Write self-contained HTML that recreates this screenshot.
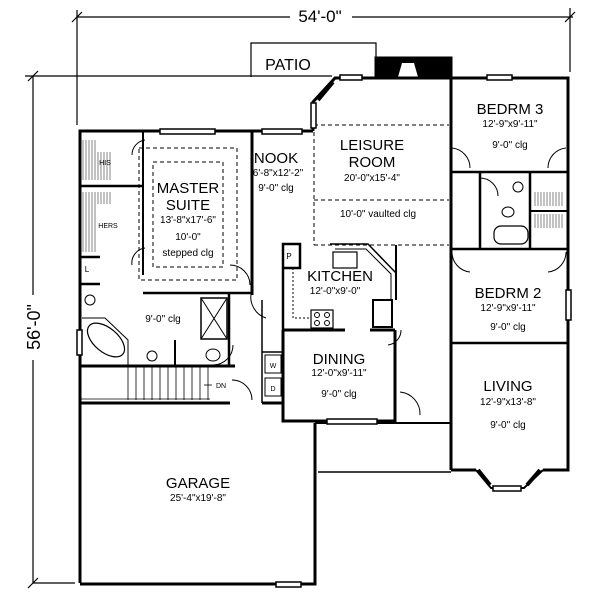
<!DOCTYPE html>
<html><head><style>
html,body{margin:0;padding:0;background:#fff}
svg{display:block}
text{font-family:"Liberation Sans",sans-serif;fill:#000}
</style></head><body>
<svg width="600" height="600" viewBox="0 0 600 600" xmlns="http://www.w3.org/2000/svg">
<g stroke="#000" fill="none">
<line x1="77" y1="17" x2="290" y2="17" stroke-width="1.2"/>
<line x1="352" y1="17" x2="573" y2="17" stroke-width="1.2"/>
<line x1="77" y1="10" x2="77" y2="125" stroke-width="1.2"/>
<line x1="570" y1="8" x2="570" y2="72" stroke-width="1.2"/>
<line x1="72" y1="22" x2="82" y2="12" stroke-width="1.2"/>
<line x1="565" y1="22" x2="575" y2="12" stroke-width="1.2"/>
<line x1="25" y1="76" x2="332" y2="76" stroke-width="1.2"/>
<line x1="33" y1="76" x2="33" y2="295" stroke-width="1.2"/>
<line x1="33" y1="360" x2="33" y2="583" stroke-width="1.2"/>
<line x1="28" y1="81" x2="38" y2="71" stroke-width="1.2"/>
<line x1="28" y1="588" x2="38" y2="578" stroke-width="1.2"/>
<line x1="33" y1="583" x2="75" y2="583" stroke-width="1.2"/>
<polyline points="251,77 251,43 376,43 376,62" stroke-width="1.2"/>
<rect x="375" y="57" width="77" height="20" fill="#000"/>
<polygon points="398,77 402,63 414,63 418,77" fill="#fff" stroke="none"/>
<g stroke-width="3">
<polyline points="80,583 80,131 252,131"/>
<line x1="252" y1="131" x2="252" y2="295"/>
<line x1="252" y1="131" x2="313" y2="131"/>
<polyline points="313,131 313,102 335,78 451,78 451,470"/>
<polyline points="451,78 568,78 568,470 543,470"/>
<line x1="451" y1="343" x2="568" y2="343" stroke-width="2.5"/>
<line x1="451" y1="470" x2="476" y2="470"/>
<polyline points="476,470 491,488 524,488 543,470" stroke-width="2"/>
<line x1="451" y1="172" x2="568" y2="172" stroke-width="2.5"/>
<line x1="451" y1="249" x2="568" y2="249" stroke-width="2.5"/>
<line x1="480" y1="172" x2="480" y2="249" stroke-width="2.5"/>
<line x1="530" y1="172" x2="530" y2="249" stroke-width="2.5"/>
<line x1="530" y1="211" x2="568" y2="211" stroke-width="2"/>
<polyline points="80,584 315,584 315,423" />
<line x1="80" y1="403" x2="230" y2="403"/>
<line x1="262" y1="403" x2="283" y2="403"/>
<polyline points="283,330 283,421 395,421 395,330"/>
<line x1="283" y1="330" x2="345" y2="330"/>
<line x1="370" y1="330" x2="395" y2="330"/>
<polyline points="315,423 451,423" stroke-width="2"/>
<line x1="318" y1="472" x2="451" y2="472" stroke-width="1.5"/>
<line x1="80" y1="366" x2="235" y2="366"/>
<line x1="143" y1="293" x2="252" y2="293" stroke-width="2.5"/>
<polyline points="229,293 229,366" stroke-width="2.5"/>
<polyline points="175,340 175,366" stroke-width="2"/>
<line x1="80" y1="257" x2="100" y2="257" stroke-width="2.5"/>
<line x1="80" y1="284" x2="100" y2="284" stroke-width="2.5"/>
<line x1="80" y1="186" x2="143" y2="186" stroke-width="2.5"/>
<line x1="143" y1="131" x2="143" y2="275" stroke-width="2"/>
<polyline points="283,330 283,244 300,244 300,268 283,268" stroke-width="2.5"/>
<line x1="262" y1="300" x2="262" y2="403" stroke-width="1.5"/>
<line x1="262" y1="352" x2="283" y2="352" stroke-width="1.5"/>
<rect x="373" y="300" width="19" height="27" stroke-width="2"/>
<line x1="396" y1="245" x2="396" y2="300" stroke-width="2"/>
</g>
<polyline points="330,244 368,244 396,273" stroke-width="1.5"/>
<polyline points="335,249 366,249 391,274 391,300" stroke-width="1"/>
<rect x="333" y="252" width="24" height="16" stroke-width="1.2"/>
<rect x="311" y="310" width="22" height="18" stroke-width="1.2"/>
<circle cx="317" cy="315" r="2.5"/><circle cx="327" cy="315" r="2.5"/><circle cx="317" cy="323" r="2.5"/><circle cx="327" cy="323" r="2.5"/>
<polyline points="293,268 293,318 311,318" stroke-dasharray="2,2"/>
<g stroke-dasharray="4,3" stroke-width="1">
<rect x="139" y="148" width="98" height="132"/>
<rect x="153" y="162" width="70" height="105"/>
<line x1="314" y1="125" x2="449" y2="125"/>
<line x1="314" y1="125" x2="314" y2="245"/>
<line x1="314" y1="245" x2="449" y2="245"/>
<line x1="314" y1="200" x2="449" y2="200"/>
</g>
<g stroke-width="1.5" fill="#fff">
<rect x="160" y="129" width="55" height="5"/>
<rect x="262" y="129" width="40" height="5"/>
<rect x="340" y="75" width="22" height="5"/>
<rect x="487" y="75" width="25" height="5"/>
<rect x="311" y="103" width="5" height="25"/>
<rect x="566" y="290" width="5" height="30"/>
<rect x="77" y="330" width="5" height="25"/>
<rect x="327" y="419" width="50" height="5"/>
<rect x="276" y="582" width="25" height="5"/>
<rect x="493" y="486" width="28" height="5"/>
</g>
<line x1="318" y1="100" x2="333" y2="82" stroke-width="4"/>
<line x1="478" y1="470" x2="490" y2="485" stroke-width="4"/>
<line x1="527" y1="485" x2="540" y2="470" stroke-width="4"/>
<g stroke-width="1">
<path d="M230,265 A20,20 0 0 1 250,285"/>
<path d="M252,290 A22,22 0 0 0 266,318"/>
<path d="M452,148 A20,20 0 0 1 470,168"/>
<path d="M566,148 A20,20 0 0 0 548,168"/>
<path d="M452,252 A20,20 0 0 0 470,272"/>
<path d="M566,252 A20,20 0 0 1 548,272"/>
<path d="M480,178 A18,18 0 0 1 498,196"/>
<path d="M145,248 A15,15 0 0 0 132,265"/>
<path d="M145,140 A15,15 0 0 0 132,155"/>
<path d="M233,345 A20,20 0 0 1 213,365"/>
<path d="M232,380 A20,20 0 0 1 252,400"/>
<path d="M401,330 A15,15 0 0 1 388,345"/>
<path d="M400,392 A22,22 0 0 1 420,415"/>
</g>
<rect x="201" y="298" width="26" height="41" stroke-width="1.5"/>
<line x1="201" y1="298" x2="227" y2="339"/><line x1="227" y1="298" x2="201" y2="339"/>
<ellipse cx="106" cy="340" rx="22" ry="12" transform="rotate(40 106 340)" stroke-width="1.2"/>
<polyline points="82,318 105,318 128,340 128,366" stroke-width="1"/>
<circle cx="90" cy="300" r="5"/><circle cx="152" cy="356" r="5"/>
<ellipse cx="213" cy="355" rx="7" ry="6"/>
<rect x="494" y="226" width="34" height="18" rx="7" stroke-width="1.2"/>
<circle cx="518" cy="187" r="5"/><ellipse cx="508" cy="212" rx="6" ry="5"/>
<rect x="265" y="355" width="16" height="18"/><rect x="265" y="378" width="16" height="18"/>
<g stroke-width="0.8">
<line x1="128" y1="366" x2="128" y2="400"/><line x1="136" y1="366" x2="136" y2="400"/><line x1="144" y1="366" x2="144" y2="400"/><line x1="152" y1="366" x2="152" y2="400"/><line x1="160" y1="366" x2="160" y2="400"/><line x1="168" y1="366" x2="168" y2="400"/><line x1="176" y1="366" x2="176" y2="400"/><line x1="184" y1="366" x2="184" y2="400"/><line x1="192" y1="366" x2="192" y2="400"/><line x1="200" y1="366" x2="200" y2="400"/><line x1="208" y1="366" x2="208" y2="400"/>
<line x1="80" y1="399" x2="210" y2="399"/>
<line x1="204" y1="385" x2="212" y2="385"/>
</g>
<g stroke="#999" stroke-width="1.2">
<path d="M83,140v40M86,140v40M89,140v40M92,140v40M95,140v40M98,152v28M101,152v28M104,152v28M107,152v28M110,152v28"/>
<path d="M83,192v60M86,192v60M89,192v60M92,192v60M95,192v60M98,192v12M101,192v12M104,192v12M107,192v12M110,192v12"/>
<path d="M535,192v14M538,192v14M541,192v14M544,192v14M547,192v14M550,192v14M553,192v14M556,192v14M559,192v14M562,192v14"/>
<path d="M535,214v14M538,214v14M541,214v14M544,214v14M547,214v14M550,214v14M553,214v14M556,214v14M559,214v14M562,214v14"/>
</g>
</g>
<text x="320" y="22" font-size="17" text-anchor="middle">54'-0"</text>
<text transform="translate(40,327) rotate(-90)" font-size="18" text-anchor="middle">56'-0"</text>
<text x="288" y="70" font-size="16" text-anchor="middle">PATIO</text>
<g text-anchor="middle">
<text x="372" y="150" font-size="15">LEISURE</text>
<text x="372" y="167" font-size="15">ROOM</text>
<text x="372" y="181" font-size="10">20'-0"x15'-4"</text>
<text x="378" y="217" font-size="10">10'-0" vaulted clg</text>
<text x="276" y="163" font-size="15">NOOK</text>
<text x="278" y="176" font-size="10">6'-8"x12'-2"</text>
<text x="276" y="191" font-size="10">9'-0" clg</text>
<text x="188" y="193" font-size="15">MASTER</text>
<text x="188" y="210" font-size="15">SUITE</text>
<text x="188" y="223" font-size="10">13'-8"x17'-6"</text>
<text x="188" y="240" font-size="10">10'-0"</text>
<text x="188" y="256" font-size="10">stepped clg</text>
<text x="105" y="165" font-size="7">HIS</text>
<text x="108" y="228" font-size="7">HERS</text>
<text x="87" y="272" font-size="8">L</text>
<text x="510" y="114" font-size="15">BEDRM 3</text>
<text x="510" y="127" font-size="10">12'-9"x9'-11"</text>
<text x="510" y="148" font-size="10">9'-0" clg</text>
<text x="508" y="298" font-size="15">BEDRM 2</text>
<text x="508" y="311" font-size="10">12'-9"x9'-11"</text>
<text x="508" y="330" font-size="10">9'-0" clg</text>
<text x="340" y="281" font-size="15">KITCHEN</text>
<text x="335" y="294" font-size="10">12'-0"x9'-0"</text>
<text x="289" y="259" font-size="8">P</text>
<text x="163" y="322" font-size="10">9'-0" clg</text>
<text x="339" y="364" font-size="15">DINING</text>
<text x="339" y="376" font-size="10">12'-0"x9'-11"</text>
<text x="339" y="397" font-size="10">9'-0" clg</text>
<text x="508" y="391" font-size="15">LIVING</text>
<text x="508" y="405" font-size="10">12'-9"x13'-8"</text>
<text x="508" y="428" font-size="10">9'-0" clg</text>
<text x="198" y="488" font-size="15">GARAGE</text>
<text x="198" y="501" font-size="10">25'-4"x19'-8"</text>
<text x="221" y="388" font-size="7">DN</text>
<text x="273" y="368" font-size="7">W</text>
<text x="273" y="391" font-size="7">D</text>
</g>
</svg>
</body></html>
